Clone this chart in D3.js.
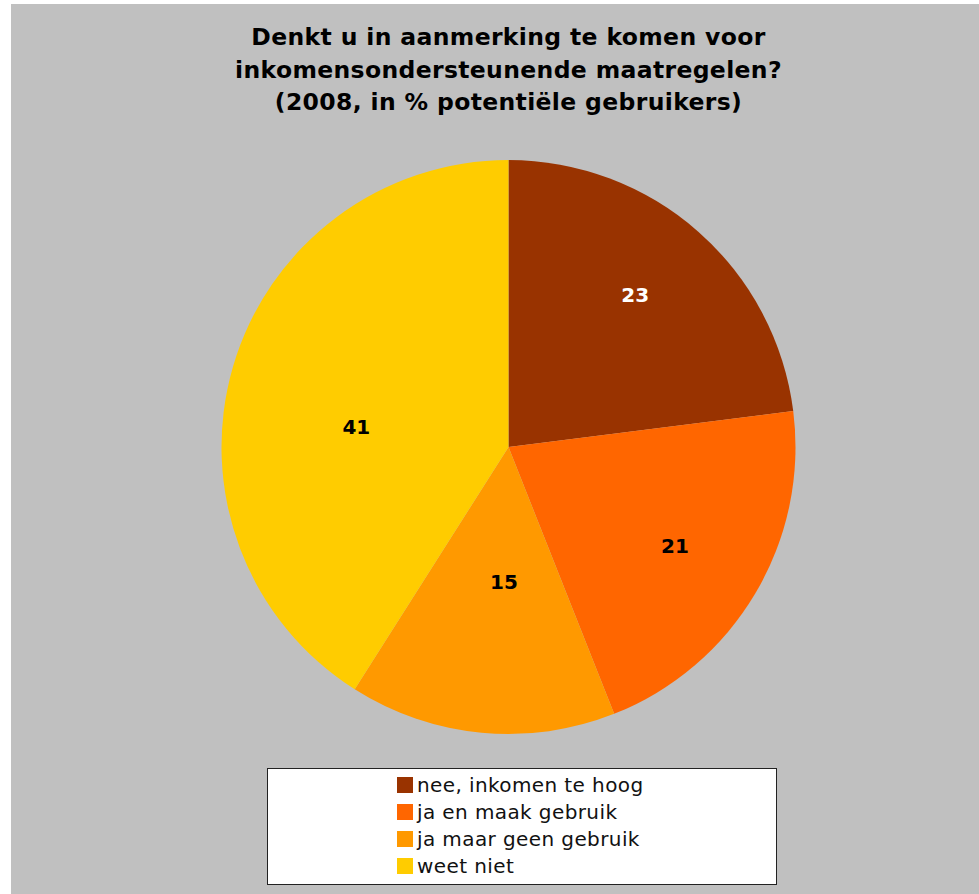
<!DOCTYPE html>
<meta charset="utf-8">
<style>
body {
    margin: 0;
    background: #fff;
}
svg text {
    font-family: "DejaVu Sans", Verdana, sans-serif;
}
</style>
<body>
<script src="https://cdn.jsdelivr.net/npm/d3@7"></script>
<script>

// data
var categories = ["nee, inkomen te hoog", "ja en maak gebruik", "ja maar geen gebruik", "weet niet"];
var values = [23, 21, 15, 41];
var colors = ["#993300", "#FF6600", "#FF9900", "#FFCC00"];
var labelColors = ["#fff", "#000", "#000", "#000"];
var titleLines = ["Denkt u in aanmerking te komen voor",
                  "inkomensondersteunende maatregelen?",
                  "(2008, in % potentiële gebruikers)"];

var width = 979,
    height = 894,
    cx = 508.5,
    cy = 447,
    radius = 287;

// label placement like the original (radius fraction, angle shift in degrees)
var labelPlace = [[0.69, -1.6], [0.675, 0.2], [0.47, -3.5], [0.535, -8.5]];

var svg = d3.select("body").append("svg")
    .attr("width", width)
    .attr("height", height);

// gray chart area
svg.append("rect")
    .attr("x", 11)
    .attr("y", 4)
    .attr("width", width - 11)
    .attr("height", height - 4)
    .attr("fill", "#C0C0C0");

svg.append("g")
    .selectAll("text")
    .data(titleLines)
  .enter().append("text")
    .attr("x", cx)
    .attr("y", function(d, i) { return 45 + i * 32.5; })
    .attr("text-anchor", "middle")
    .style("font-size", "23.5px")
    .style("font-weight", "bold")
    .style("letter-spacing", "0.35px")
    .attr("fill", "#000")
    .text(function(d) { return d; });

var pie = d3.pie().sort(null).value(function(d) { return d; });
var arc = d3.arc().innerRadius(0).outerRadius(radius);

var g = svg.append("g")
    .attr("transform", "translate(" + cx + "," + cy + ")");

var slices = pie(values);

g.selectAll("path")
    .data(slices)
  .enter().append("path")
    .attr("d", arc)
    .attr("fill", function(d, i) { return colors[i]; });

g.selectAll(".lbl")
    .data(slices)
  .enter().append("text")
    .attr("class", "lbl")
    .attr("transform", function(d, i) {
        var a = (d.startAngle + d.endAngle) / 2 + labelPlace[i][1] * Math.PI / 180,
            r = radius * labelPlace[i][0];
        return "translate(" + (r * Math.sin(a)) + "," + (-r * Math.cos(a)) + ")";
    })
    .attr("dy", "0.36em")
    .attr("text-anchor", "middle")
    .style("font-size", "20px")
    .style("font-weight", "bold")
    .attr("fill", function(d, i) { return labelColors[i]; })
    .text(function(d) { return d.data; });

// legend
var legend = svg.append("g");

legend.append("rect")
    .attr("x", 267.5)
    .attr("y", 768.5)
    .attr("width", 509)
    .attr("height", 116)
    .attr("fill", "#fff")
    .attr("stroke", "#222")
    .attr("stroke-width", 1);

var item = legend.selectAll(".item")
    .data(categories)
  .enter().append("g")
    .attr("class", "item")
    .attr("transform", function(d, i) { return "translate(397," + (777 + i * 27) + ")"; });

item.append("rect")
    .attr("width", 16)
    .attr("height", 16)
    .attr("fill", function(d, i) { return colors[i]; });

item.append("text")
    .attr("x", 20)
    .attr("y", 15)
    .style("font-size", "20px")
    .style("letter-spacing", "0.4px")
    .attr("fill", "#111")
    .text(function(d) { return d; });

</script>
</body>
